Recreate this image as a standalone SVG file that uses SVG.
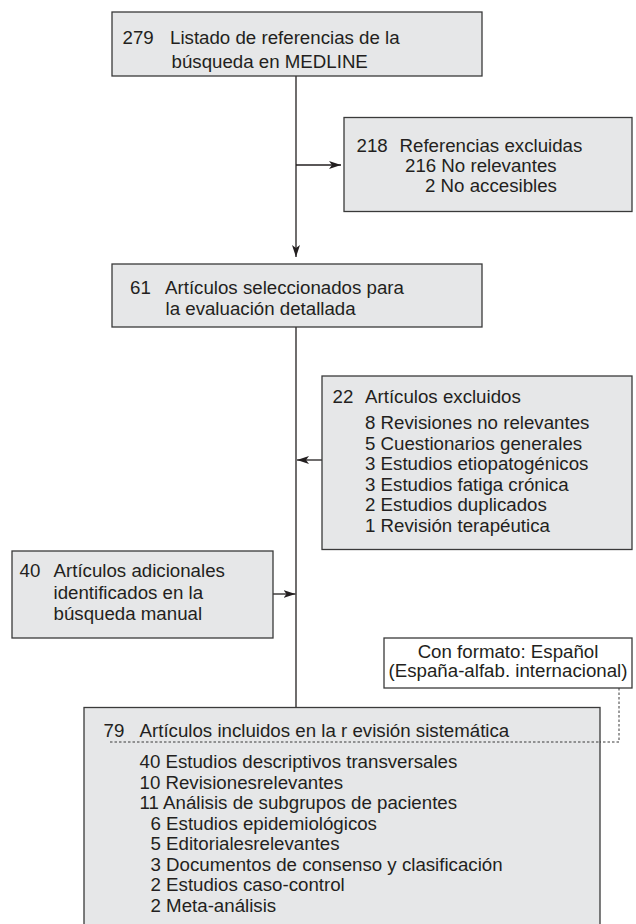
<svg xmlns="http://www.w3.org/2000/svg" width="636" height="924" viewBox="0 0 636 924">
<defs>
<style>
.box{fill:#e6e7e8;stroke:#3a3a3a;stroke-width:1.3}
.note{fill:#ffffff;stroke:#3a3a3a;stroke-width:1.3}
text{font-family:"Liberation Sans",Arial,sans-serif;font-size:18.7px;fill:#231f20}
.ln{stroke:#231f20;stroke-width:1.3;fill:none}
.dot{stroke:#3a3a3a;stroke-width:1;stroke-dasharray:2.5,2;fill:none}
</style>
<marker id="ah" viewBox="0 0 12 8" refX="12" refY="4" markerWidth="12" markerHeight="8" markerUnits="userSpaceOnUse" orient="auto">
<path d="M0,0 L12,4 L0,8 L3,4 Z" fill="#231f20"/>
</marker>
</defs>
<rect width="636" height="924" fill="#ffffff"/>
<g id="connectors">
<line class="ln" x1="296" y1="76" x2="296" y2="257" marker-end="url(#ah)"/>
<line class="ln" x1="296" y1="165" x2="341" y2="165" marker-end="url(#ah)"/>
<line class="ln" x1="296" y1="327" x2="296" y2="708"/>
<line class="ln" x1="322" y1="460" x2="297" y2="460" marker-end="url(#ah)"/>
<line class="ln" x1="273" y1="594" x2="295.5" y2="594" marker-end="url(#ah)"/>
<polyline class="dot" points="619,688 619,742 110,742"/>
</g>
<g id="n279">
<rect class="box" x="112" y="12" width="370" height="64"/>
<text x="122.5" y="43.5">279</text>
<text x="170" y="43.5">Listado de referencias de la</text>
<text x="171.5" y="68">búsqueda en MEDLINE</text>
</g>
<g id="n218">
<rect class="box" x="344" y="117.5" width="288" height="94"/>
<text x="356.5" y="152">218</text>
<text x="399.5" y="152">Referencias excluidas</text>
<text x="405" y="172">216 No relevantes</text>
<text x="425" y="192">2 No accesibles</text>
</g>
<g id="n61">
<rect class="box" x="112" y="264" width="370" height="63"/>
<text x="130" y="293.5">61</text>
<text x="165" y="293.5">Artículos seleccionados para</text>
<text x="165.5" y="315">la evaluación detallada</text>
</g>
<g id="n22">
<rect class="box" x="322" y="376" width="310" height="173.5"/>
<text x="332.5" y="403">22</text>
<text x="365" y="403">Artículos excluidos</text>
<text x="365" y="428.5">8 Revisiones no relevantes</text>
<text x="365" y="449.5">5 Cuestionarios generales</text>
<text x="365" y="470">3 Estudios etiopatogénicos</text>
<text x="365" y="490.5">3 Estudios fatiga crónica</text>
<text x="365" y="511">2 Estudios duplicados</text>
<text x="365" y="531.5">1 Revisión terapéutica</text>
</g>
<g id="n40">
<rect class="box" x="12" y="551" width="261" height="87"/>
<text x="19.5" y="577">40</text>
<text x="53.5" y="577">Artículos adicionales</text>
<text x="53.5" y="598.5">identificados en la</text>
<text x="53.5" y="620">búsqueda manual</text>
</g>
<g id="note">
<rect class="note" x="384" y="638" width="248" height="50"/>
<text x="508" y="657.5" text-anchor="middle">Con formato: Español</text>
<text x="508" y="677" text-anchor="middle">(España-alfab. internacional)</text>
</g>
<g id="n79">
<rect class="box" x="84" y="707.5" width="516" height="230"/>
<text x="103.5" y="736.5">79</text>
<text x="139.5" y="736.5">Artículos incluidos en la r evisión sistemática</text>
<text x="139.5" y="768">40 Estudios descriptivos transversales</text>
<text x="139.5" y="788.5">10 Revisionesrelevantes</text>
<text x="139.5" y="809">11 Análisis de subgrupos de pacientes</text>
<text x="150.5" y="829.5">6 Estudios epidemiológicos</text>
<text x="150.5" y="850">5 Editorialesrelevantes</text>
<text x="150.5" y="870.5">3 Documentos de consenso y clasificación</text>
<text x="150.5" y="891">2 Estudios caso-control</text>
<text x="150.5" y="911.5">2 Meta-análisis</text>
</g>
<line class="dot" x1="110" y1="742" x2="600" y2="742"/>
</svg>
